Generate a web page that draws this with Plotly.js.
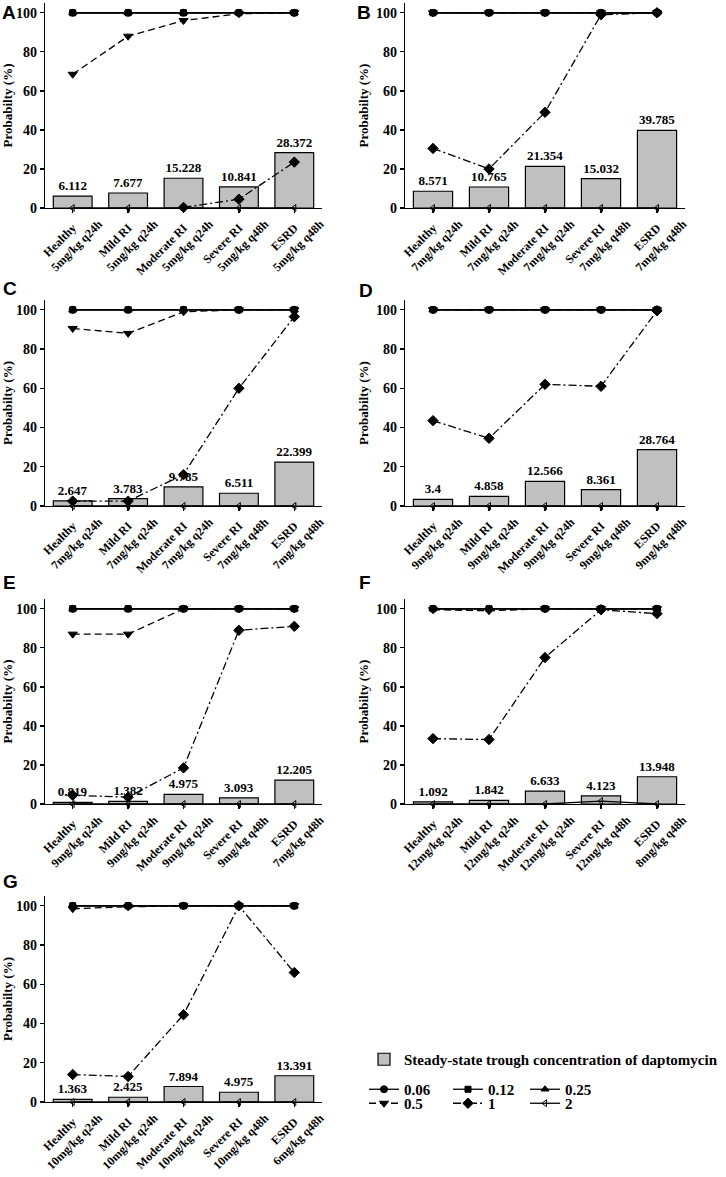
<!DOCTYPE html>
<html>
<head>
<meta charset="utf-8">
<script src="https://cdn.plot.ly/plotly-3.0.1.min.js"></script>
<style>
  html, body { margin: 0; padding: 0; background: #fff; }
  #chart { width: 726px; height: 1177px; }
</style>
</head>
<body>
<div id="chart"></div>
<script>
// category names (first line of each tick label)
var groups = ['Healthy', 'Mild RI', 'Moderate RI', 'Severe RI', 'ESRD'];

// dosing regimens per panel (second line of tick label)
var dosesA = ['5mg/kg q24h', '5mg/kg q24h', '5mg/kg q24h', '5mg/kg q48h', '5mg/kg q48h'];
var dosesB = ['7mg/kg q24h', '7mg/kg q24h', '7mg/kg q24h', '7mg/kg q48h', '7mg/kg q48h'];
var dosesC = ['7mg/kg q24h', '7mg/kg q24h', '7mg/kg q24h', '7mg/kg q48h', '7mg/kg q48h'];
var dosesD = ['9mg/kg q24h', '9mg/kg q24h', '9mg/kg q24h', '9mg/kg q48h', '9mg/kg q48h'];
var dosesE = ['9mg/kg q24h', '9mg/kg q24h', '9mg/kg q24h', '9mg/kg q48h', '7mg/kg q48h'];
var dosesF = ['12mg/kg q24h', '12mg/kg q24h', '12mg/kg q24h', '12mg/kg q48h', '8mg/kg q48h'];
var dosesG = ['10mg/kg q24h', '10mg/kg q24h', '10mg/kg q24h', '10mg/kg q48h', '6mg/kg q48h'];

// steady-state trough concentration (bars)
var troughA = [6.112, 7.677, 15.228, 10.841, 28.372];
var troughB = [8.571, 10.765, 21.354, 15.032, 39.785];
var troughC = [2.647, 3.783, 9.785, 6.511, 22.399];
var troughD = [3.4, 4.858, 12.566, 8.361, 28.764];
var troughE = [0.819, 1.382, 4.975, 3.093, 12.205];
var troughF = [1.092, 1.842, 6.633, 4.123, 13.948];
var troughG = [1.363, 2.425, 7.894, 4.975, 13.391];

// probability for MIC 0.06 / 0.12 / 0.25 (same in every panel)
var ptaLow = [100, 100, 100, 100, 100];

// probability for MIC 0.5
var pta05A = [68.5, 88, 96, 99.5, 100];
var pta05B = [100, 100, 100, 100, 100];
var pta05C = [90.5, 88, 99, 100, 100];
var pta05D = [100, 100, 100, 100, 100];
var pta05E = [87, 87, 100, 100, 100];
var pta05F = [99.5, 99, 100, 100, 100];
var pta05G = [98.5, 99.5, 100, 100, 100];

// probability for MIC 1
var pta1A = [null, null, 0.3, 4.5, 23.5];
var pta1B = [30.5, 20, 49, 99, 100];
var pta1C = [2.5, 2.5, 16, 60, 96.5];
var pta1D = [43.5, 34.5, 62, 61, 99.5];
var pta1E = [4.5, 3.5, 18.5, 89, 91];
var pta1F = [33.5, 33, 75, 99.5, 97.5];
var pta1G = [14, 13, 44.5, 100, 66];

// probability for MIC 2
var pta2A = [0, 0, 0, 0, 0];
var pta2B = [0, 0, 0, 0, 0];
var pta2C = [0, 0, 0, 0, 0];
var pta2D = [0, 0, 0, 0, 0];
var pta2E = [0, 0, 0, 0, 0];
var pta2F = [0, 0, 0, 1.5, 0];
var pta2G = [0, 0, 0, 0, 0];

var panelLetters = ['A', 'B', 'C', 'D', 'E', 'F', 'G'];

var panels = [
  {doses: dosesA, trough: troughA, p05: pta05A, p1: pta1A, p2: pta2A},
  {doses: dosesB, trough: troughB, p05: pta05B, p1: pta1B, p2: pta2B},
  {doses: dosesC, trough: troughC, p05: pta05C, p1: pta1C, p2: pta2C},
  {doses: dosesD, trough: troughD, p05: pta05D, p1: pta1D, p2: pta2D},
  {doses: dosesE, trough: troughE, p05: pta05E, p1: pta1E, p2: pta2E},
  {doses: dosesF, trough: troughF, p05: pta05F, p1: pta1F, p2: pta2F},
  {doses: dosesG, trough: troughG, p05: pta05G, p1: pta1G, p2: pta2G}
];

var W = 726, H = 1177;
// pixel boxes of the plot areas
var colX = [[45, 322], [405, 685]];
var rowY = [[3, 208], [300, 506], [599, 804], [896, 1102]];
var letterPos = [[0, 13], [355, 13], [1, 288], [357, 290], [1, 583], [357, 583], [1, 881]];

var serif = '"Liberation Serif", "Times New Roman", serif';
var data = [];
var legFont = {size: 15, family: serif, weight: 'bold', color: '#000'};

var layout = {
  width: W, height: H,
  margin: {l: 0, r: 0, t: 0, b: 0},
  paper_bgcolor: '#fff', plot_bgcolor: '#fff',
  font: {family: serif, size: 12, color: '#000', weight: 'bold'},
  annotations: []
};

// one small legend per entry so the grid matches the reference
var lineSpecs = [
  {name: '0.06', key: 'low', sym: 'circle', dash: 'solid', size: 7, leg: [364, 1073]},
  {name: '0.12', key: 'low', sym: 'square', dash: 'solid', size: 6, leg: [448, 1073]},
  {name: '0.25', key: 'low', sym: 'triangle-up', dash: 'solid', size: 7, leg: [525, 1073]},
  {name: '0.5', key: 'p05', sym: 'triangle-down', dash: '7px,4px', size: 8, leg: [364, 1087]},
  {name: '1', key: 'p1', sym: 'diamond', dash: '8px,3px,2px,3px', size: 8, leg: [448, 1087]},
  {name: '2', key: 'p2', sym: 'triangle-left-open', dash: 'solid', size: 6, leg: [525, 1087]}
];

layout.legend = {x: 364 / W, y: 1 - 1043 / H, xanchor: 'left', yanchor: 'top', orientation: 'h',
  font: legFont, bgcolor: 'rgba(0,0,0,0)', itemwidth: 30};
lineSpecs.forEach(function(s, k){
  s.legName = 'legend' + (k + 2);
  layout[s.legName] = {x: s.leg[0] / W, y: 1 - s.leg[1] / H, xanchor: 'left', yanchor: 'top',
    orientation: 'h', font: legFont, bgcolor: 'rgba(0,0,0,0)', itemwidth: 30};
});

// pad the first line so the second line sticks out like the reference layout
var pad = '\u00a0\u00a0\u00a0\u00a0\u00a0\u00a0\u00a0';

panels.forEach(function(p, i){
  var n = i + 1;
  var axKey = n === 1 ? '' : n;
  var xa = 'x' + axKey, ya = 'y' + axKey;
  var cats = groups.map(function(g, k){ return g + pad + '<br>' + p.doses[k]; });
  var first = (i === 0);

  data.push({
    type: 'bar', x: cats, y: p.trough, xaxis: xa, yaxis: ya,
    name: 'Steady-state trough concentration of daptomycin',
    marker: {color: '#c0c0c0', line: {color: '#000', width: 1.2}},
    width: 0.7,
    text: p.trough.map(String), textposition: 'outside', cliponaxis: false,
    textfont: {size: 13, family: serif, color: '#000', weight: 'bold'},
    showlegend: first, legend: 'legend', hoverinfo: 'skip'
  });

  lineSpecs.forEach(function(s){
    var yv = s.key === 'low' ? ptaLow : p[s.key];
    data.push({
      type: 'scatter', mode: 'lines+markers', x: cats, y: yv, xaxis: xa, yaxis: ya,
      name: s.name, legend: s.legName, showlegend: first, cliponaxis: false,
      line: {color: '#000', width: 1.3, dash: s.dash},
      marker: {symbol: s.sym, size: s.size, color: '#000', line: {color: '#000', width: 1}},
      hoverinfo: 'skip'
    });
  });

  var col = i % 2, row = Math.floor(i / 2);
  var xs = colX[col], ys = rowY[row];
  layout['xaxis' + axKey] = {
    domain: [xs[0] / W, xs[1] / W], anchor: ya, type: 'category',
    range: [-0.5, 4.5], showline: true, linecolor: '#000', linewidth: 1.3,
    ticks: 'outside', ticklen: 4, tickwidth: 1.3, tickcolor: '#000',
    tickangle: -45, tickfont: {size: 12, family: serif, weight: 'bold', color: '#000'},
    ticklabelshift: 15, ticklabelstandoff: -12,
    showgrid: false, zeroline: false, automargin: false, fixedrange: true
  };
  layout['yaxis' + axKey] = {
    domain: [1 - ys[1] / H, 1 - ys[0] / H], anchor: xa,
    range: [0, 105], tickvals: [0, 20, 40, 60, 80, 100],
    showline: true, linecolor: '#000', linewidth: 1.3,
    ticks: 'outside', ticklen: 4, tickwidth: 1.3, tickcolor: '#000',
    tickfont: {size: 14, family: serif, weight: 'bold', color: '#000'},
    title: {text: 'Probabilty (%)', font: {size: 13, family: serif, weight: 'bold', color: '#000'}, standoff: 4},
    showgrid: false, zeroline: false, automargin: false, fixedrange: true
  };

  layout.annotations.push({
    text: panelLetters[i], xref: 'paper', yref: 'paper',
    x: letterPos[i][0] / W, y: 1 - letterPos[i][1] / H,
    xanchor: 'left', yanchor: 'middle', showarrow: false,
    font: {family: '"Liberation Sans", Arial, sans-serif', size: 19, weight: 'bold', color: '#000'}
  });
});

Plotly.newPlot('chart', data, layout, {staticPlot: true});
</script>
</body>
</html>
